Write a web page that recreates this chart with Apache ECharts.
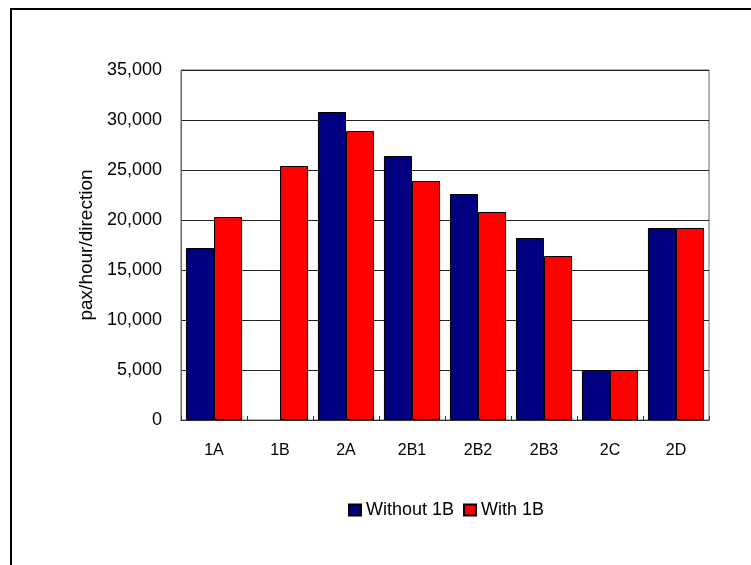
<!DOCTYPE html>
<html>
<head>
<meta charset="utf-8">
<script src="https://cdn.jsdelivr.net/npm/echarts@6/dist/echarts.min.js"></script>
<style>
  html, body { margin: 0; padding: 0; background: #fff; }
  #chart { width: 751px; height: 565px; }
</style>
</head>
<body>
<div id="chart"></div>
<script>
// Peak line loads by section, in passengers per hour per direction
const sections = ['1A', '1B', '2A', '2B1', '2B2', '2B3', '2C', '2D'];
const withoutOneB = [17200, 0, 30800, 26400, 22600, 18200, 5000, 19200];
const withOneB = [20300, 25400, 28900, 23900, 20800, 16400, 5000, 19200];
const yTicks = [0, 5000, 10000, 15000, 20000, 25000, 30000, 35000];

const fontFamily = '"Liberation Sans", Arial, sans-serif';
const chart = echarts.init(document.getElementById('chart'), null, { renderer: 'canvas' });

// a zero-height bar draws no outline
const asBars = arr => arr.map(v => (v === 0 ? { value: 0, itemStyle: { borderWidth: 0 } } : v));

chart.setOption({
  animation: false,
  backgroundColor: '#fff',
  graphic: [{
    type: 'rect',
    shape: { x: 11, y: 9, width: 800, height: 620 },
    style: { fill: 'none', stroke: '#000', lineWidth: 2 },
    silent: true
  }],
  grid: { left: 181, top: 70, width: 528, height: 350, show: true, borderColor: '#666', borderWidth: 1, backgroundColor: 'transparent' },
  legend: {
    data: ['Without 1B', 'With 1B'],
    top: 496,
    left: 343,
    itemWidth: 12, itemHeight: 11,
    itemGap: 9,
    icon: 'rect',
    textStyle: { fontFamily, fontSize: 18, color: '#000' }
  },
  xAxis: {
    type: 'category',
    data: sections,
    axisLine: { lineStyle: { color: '#333', width: 1 } },
    axisTick: { show: true, inside: true, length: 4, lineStyle: { color: '#333' } },
    axisLabel: { fontFamily, fontSize: 16, color: '#000', margin: 23 }
  },
  yAxis: {
    type: 'value',
    min: yTicks[0],
    max: yTicks[yTicks.length - 1],
    interval: 5000,
    name: 'pax/hour/direction',
    nameLocation: 'middle',
    nameGap: 85,
    nameTextStyle: { fontFamily, fontSize: 19, color: '#000' },
    axisLine: { show: true, lineStyle: { color: '#666' } },
    axisTick: { show: false },
    splitLine: { lineStyle: { color: '#222', width: 1 } },
    axisLabel: {
      fontFamily, fontSize: 18, color: '#000', margin: 19,
      formatter: v => v.toLocaleString('en-US')
    }
  },
  series: [
    {
      name: 'Without 1B',
      type: 'bar',
      data: asBars(withoutOneB),
      barGap: '0%',
      barCategoryGap: '15%',
      itemStyle: { color: '#000080', borderColor: '#000', borderWidth: 1 }
    },
    {
      name: 'With 1B',
      type: 'bar',
      data: asBars(withOneB),
      barGap: '0%',
      barCategoryGap: '15%',
      itemStyle: { color: '#ff0000', borderColor: '#000', borderWidth: 1 }
    }
  ]
});
</script>
</body>
</html>
